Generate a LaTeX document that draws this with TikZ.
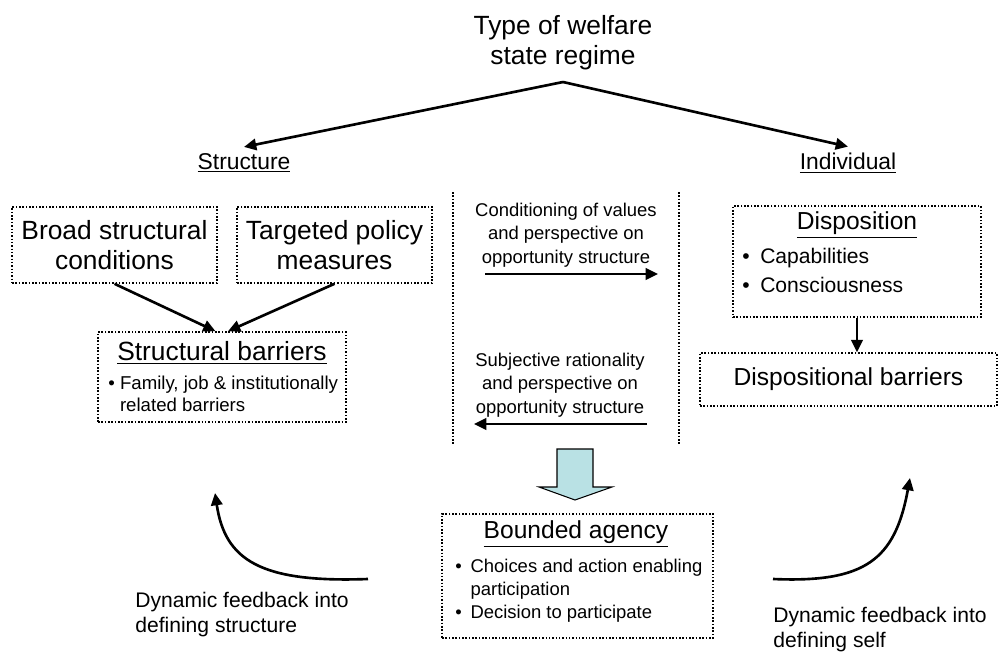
\documentclass[tikz,border=0pt]{standalone}
\usepackage{fontspec}
\setmainfont{Liberation Sans}
\usetikzlibrary{arrows.meta}
\definecolor{arrowfill}{RGB}{185,225,228}
\tikzset{
  box/.style={draw,densely dotted,line width=0.9pt,inner sep=0pt},
  arr/.style={line width=1.5pt,-{Triangle[length=7pt,width=6.5pt]}},
  big/.style={font=\fontsize{15}{17}\selectfont,align=center},
  mid/.style={font=\fontsize{14}{17}\selectfont,align=center},
  small/.style={font=\fontsize{10.5}{13.3}\selectfont,align=center},
  list/.style={align=left,anchor=west,inner sep=0pt}
}

\begin{document}
\begin{tikzpicture}[x=0.02cm,y=-0.02cm]
\useasboundingbox (0,0) rectangle (1002,653);
\node[big] (regime) at (563,43) {Type of welfare\\state regime};
\coordinate (apex) at (563,82);
\node[font=\fontsize{13}{15}\selectfont] (struc) at (244,163) {\underline{Structure}};
\node[font=\fontsize{13}{15}\selectfont] (indiv) at (848,163) {\underline{Individual}};
\draw[arr] (apex) -- (struc.north);
\draw[arr] (apex) -- (indiv.north);

\node[box,big,minimum width=4.1cm,minimum height=1.52cm] (broad) at (114.5,245) {Broad structural\\conditions};
\node[box,big,minimum width=3.9cm,minimum height=1.52cm] (target) at (334.5,245) {Targeted policy\\measures};
\node[box,minimum width=4.96cm,minimum height=1.8cm] (sbar) at (222,377) {};
\node[big] (sbartitle) at (222,353) {\underline{Structural barriers}};
\node[list,font=\fontsize{10.6}{12.5}\selectfont] (sbarlist) at (108,394) {\textbullet\ Family, job \& institutionally\\\phantom{\textbullet\ }related barriers};
\draw[arr] (broad.south) -- ([xshift=-0.13cm]sbar.north);
\draw[arr] (target.south) -- ([xshift=0.12cm]sbar.north);

\draw[densely dotted,line width=0.9pt] (453,192) -- (453,445);
\draw[densely dotted,line width=0.9pt] (679,192) -- (679,445);
\node[small] (cond) at (566,235) {Conditioning of values\\and perspective on\\opportunity structure};
\coordinate (c1) at (485,274);
\coordinate (c2) at (658,274);
\draw[arr] (c1) -- (c2);
\node[small] (subj) at (560,385) {Subjective rationality\\and perspective on\\opportunity structure};
\coordinate (s1) at (647,424);
\coordinate (s2) at (474,424);
\draw[arr] (s1) -- (s2);

\node[box,minimum width=4.96cm,minimum height=2.22cm] (disp) at (857,261.5) {};
\node[mid] (disptitle) at (857,225) {\underline{Disposition}};
\node[list,font=\fontsize{12}{16.5}\selectfont] (displist) at (742,270.5) {\textbullet\hspace{6pt}Capabilities\\\textbullet\hspace{6pt}Consciousness};
\node[box,mid,minimum width=5.94cm,minimum height=1.06cm] (dbar) at (848.5,379.5) {Dispositional barriers};
\draw[arr] (disp.south) -- (disp.south |- dbar.north);

\draw[fill=arrowfill,line width=0.6pt] (557,449) -- (593,449) -- (593,487) -- (612,487) -- (575,500) -- (539,487) -- (557,487) -- cycle;

\node[box,minimum width=5.42cm,minimum height=2.48cm] (agency) at (577.5,576) {};
\node[mid] (agencytitle) at (576,534) {\underline{Bounded agency}};
\node[list,font=\fontsize{10.5}{13}\selectfont] (agencylist) at (455,591) {\textbullet\hspace{5pt}Choices and action enabling\\\phantom{\textbullet\hspace{5pt}}participation\\\textbullet\hspace{5pt}Decision to participate};

\coordinate (fl1) at (368,579);
\coordinate (fl2) at (215,493);
\draw[arr] (fl1) .. controls (260,583) and (225,560) .. (fl2);
\node[list,font=\fontsize{12}{14.2}\selectfont] (fbstruc) at (135,614.5) {Dynamic feedback into\\defining structure};
\coordinate (fr1) at (773,579);
\coordinate (fr2) at (910,478);
\draw[arr] (fr1) .. controls (865,583) and (895,560) .. (fr2);
\node[list,font=\fontsize{12}{14.2}\selectfont] (fbself) at (773,630) {Dynamic feedback into\\defining self};
\end{tikzpicture}
\end{document}
